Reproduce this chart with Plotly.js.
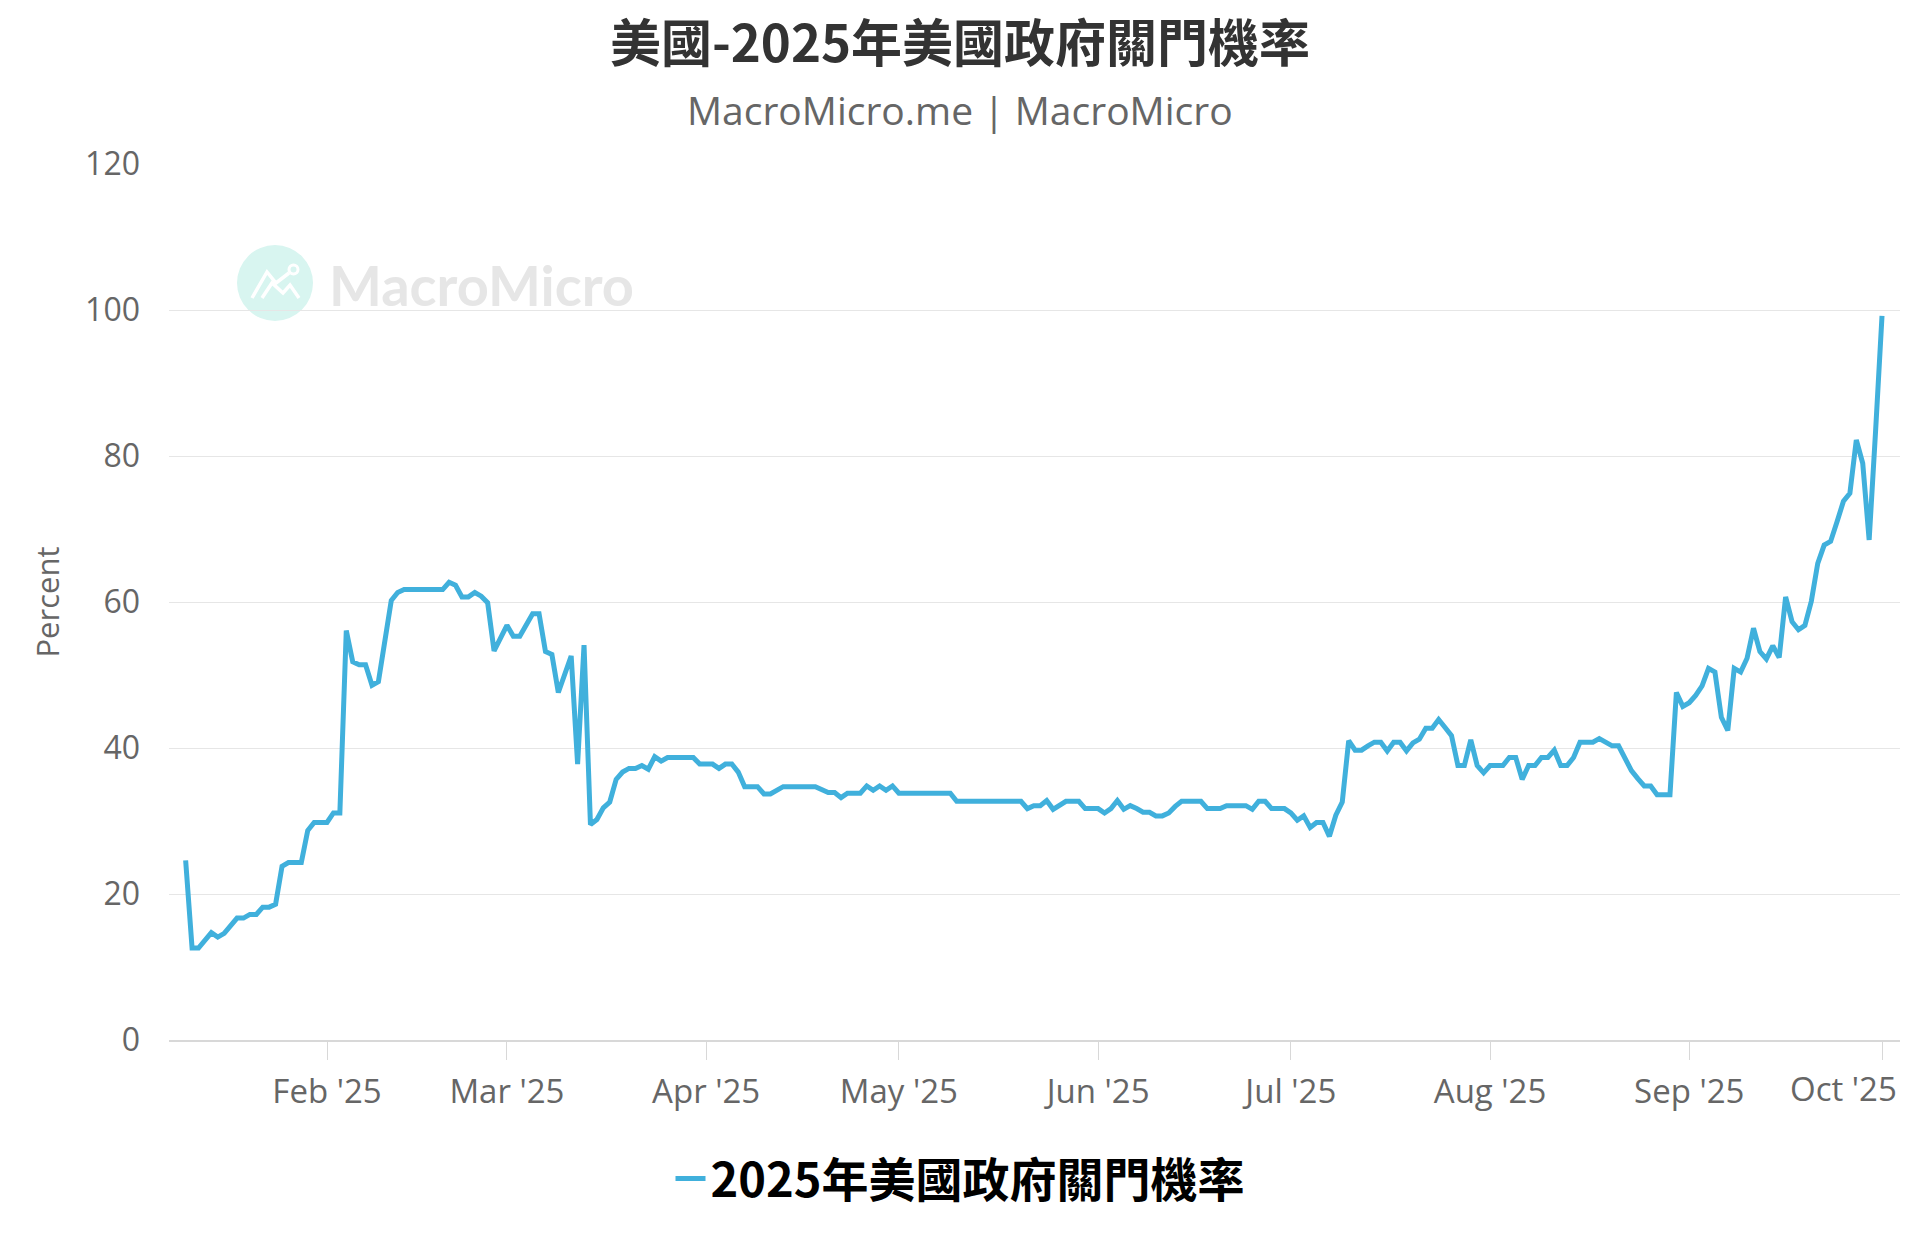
<!DOCTYPE html>
<html>
<head>
<meta charset="utf-8">
<script src="https://cdn.plot.ly/plotly-3.0.1.min.js"></script>
<style>
  html, body { margin: 0; padding: 0; background: #ffffff; }
  #chart { width: 1920px; height: 1250px; }
</style>
</head>
<body>
<div id="chart"></div>
<script>
// ---- Data ----
const chartTitle = "美國-2025年美國政府關門機率";
const chartSubtitle = "MacroMicro.me | MacroMicro";
const seriesName = "2025年美國政府關門機率";
const yAxisTitle = "Percent";

const dates = [
  "2025-01-10","2025-01-11","2025-01-12","2025-01-14","2025-01-15","2025-01-16","2025-01-18","2025-01-19",
  "2025-01-20","2025-01-21","2025-01-22","2025-01-23","2025-01-24","2025-01-25","2025-01-26","2025-01-28",
  "2025-01-29","2025-01-30","2025-02-01","2025-02-02","2025-02-03","2025-02-04","2025-02-05","2025-02-06",
  "2025-02-07","2025-02-08","2025-02-09","2025-02-11","2025-02-12","2025-02-13","2025-02-19","2025-02-20",
  "2025-02-21","2025-02-22","2025-02-23","2025-02-24","2025-02-25","2025-02-26","2025-02-27","2025-03-01",
  "2025-03-02","2025-03-03","2025-03-05","2025-03-06","2025-03-07","2025-03-08","2025-03-09","2025-03-11",
  "2025-03-12","2025-03-13","2025-03-14","2025-03-15","2025-03-16","2025-03-17","2025-03-18","2025-03-19",
  "2025-03-20","2025-03-21","2025-03-22","2025-03-23","2025-03-24","2025-03-25","2025-03-26","2025-03-30",
  "2025-03-31","2025-04-02","2025-04-03","2025-04-04","2025-04-05","2025-04-06","2025-04-07","2025-04-09",
  "2025-04-10","2025-04-11","2025-04-13","2025-04-18","2025-04-20","2025-04-21","2025-04-22","2025-04-23",
  "2025-04-25","2025-04-26","2025-04-27","2025-04-28","2025-04-29","2025-04-30","2025-05-01","2025-05-09",
  "2025-05-10","2025-05-20","2025-05-21","2025-05-22","2025-05-23","2025-05-24","2025-05-25","2025-05-26",
  "2025-05-27","2025-05-29","2025-05-30","2025-06-01","2025-06-02","2025-06-03","2025-06-04","2025-06-05",
  "2025-06-06","2025-06-07","2025-06-08","2025-06-09","2025-06-10","2025-06-11","2025-06-12","2025-06-13",
  "2025-06-14","2025-06-17","2025-06-18","2025-06-20","2025-06-21","2025-06-24","2025-06-25","2025-06-26",
  "2025-06-27","2025-06-28","2025-06-30","2025-07-01","2025-07-02","2025-07-03","2025-07-04","2025-07-05",
  "2025-07-06","2025-07-07","2025-07-08","2025-07-09","2025-07-10","2025-07-11","2025-07-12","2025-07-13",
  "2025-07-14","2025-07-15","2025-07-16","2025-07-17","2025-07-18","2025-07-19","2025-07-20","2025-07-21",
  "2025-07-22","2025-07-23","2025-07-24","2025-07-25","2025-07-26","2025-07-27","2025-07-28","2025-07-29",
  "2025-07-30","2025-07-31","2025-08-01","2025-08-03","2025-08-04","2025-08-05","2025-08-06","2025-08-07",
  "2025-08-08","2025-08-09","2025-08-10","2025-08-11","2025-08-12","2025-08-13","2025-08-14","2025-08-15",
  "2025-08-17","2025-08-18","2025-08-19","2025-08-20","2025-08-21","2025-08-22","2025-08-23","2025-08-24",
  "2025-08-25","2025-08-26","2025-08-27","2025-08-29","2025-08-30","2025-08-31","2025-09-01","2025-09-02",
  "2025-09-03","2025-09-04","2025-09-05","2025-09-06","2025-09-07","2025-09-08","2025-09-09","2025-09-10",
  "2025-09-11","2025-09-12","2025-09-13","2025-09-14","2025-09-15","2025-09-16","2025-09-17","2025-09-18",
  "2025-09-19","2025-09-20","2025-09-21","2025-09-22","2025-09-23","2025-09-24","2025-09-25","2025-09-26",
  "2025-09-27","2025-09-28","2025-09-29","2025-09-30","2025-10-01"
];

const shutdownProbability = [
  24.6,12.6,12.6,14.7,14.1,14.6,16.7,16.7,
  17.2,17.2,18.2,18.2,18.6,23.8,24.3,24.3,
  28.7,29.8,29.8,31.1,31.1,56.1,51.8,51.4,
  51.4,48.6,49.1,60.2,61.3,61.7,61.7,62.7,
  62.3,60.7,60.7,61.3,60.8,59.9,53.3,56.8,
  55.3,55.3,58.4,58.4,53.2,52.8,47.6,52.6,
  37.8,54.1,29.5,30.2,31.8,32.6,35.7,36.7,
  37.2,37.2,37.6,37.1,38.8,38.2,38.7,38.7,
  37.8,37.8,37.2,37.8,37.8,36.7,34.7,34.7,
  33.7,33.7,34.7,34.7,33.9,33.9,33.2,33.8,
  33.8,34.8,34.2,34.8,34.2,34.8,33.8,33.8,
  32.7,32.7,31.7,32.1,32.1,32.8,31.6,32.1,
  32.7,32.7,31.7,31.7,31.1,31.7,32.8,31.6,
  32.1,31.7,31.2,31.2,30.7,30.7,31.1,32.0,
  32.7,32.7,31.7,31.7,32.1,32.1,31.6,32.7,
  32.7,31.7,31.7,31.1,30.1,30.7,29.1,29.8,
  29.8,27.9,30.8,32.6,41.0,39.7,39.7,40.3,
  40.8,40.8,39.6,40.8,40.8,39.6,40.7,41.2,
  42.7,42.7,43.9,42.8,41.7,37.6,37.6,41.1,
  37.6,36.6,37.6,37.6,38.7,38.7,35.7,37.6,
  37.6,38.7,38.7,39.7,37.6,37.6,38.7,40.8,
  40.8,41.3,40.8,40.3,40.3,38.5,36.9,35.8,
  34.8,34.8,33.6,33.6,47.6,45.7,46.2,47.2,
  48.5,50.9,50.4,44.2,42.4,50.9,50.4,52.3,
  56.4,53.2,52.2,54.0,52.4,60.7,57.3,56.2,
  56.8,60.1,65.3,67.8,68.3,71.0,73.8,74.9,
  82.2,79.0,68.5,83.4,99.2
];

const xTickDates = ["2025-02-01","2025-03-01","2025-04-01","2025-05-01","2025-06-01",
                    "2025-07-01","2025-08-01","2025-09-01","2025-10-01"];
const xTickLabels = ["Feb '25","Mar '25","Apr '25","May '25","Jun '25",
                     "Jul '25","Aug '25","Sep '25","Oct '25"];
const yTickValues = [0, 20, 40, 60, 80, 100, 120];
const xRange = ["2025-01-07 09:50", "2025-10-03 19:12"];

// ---- Styles ----
const lineColor = "#40b0dc";
const gridColor = "#e6e6e6";
const axisColor = "#d8d8d8";
const labelColor = "#666666";
const latinFont = "Open Sans, Noto Sans, sans-serif";
const cjkFont = "Noto Sans CJK TC, Noto Sans CJK SC, sans-serif";

// The last month label is pushed inside the chart edge (as in the reference),
// so it is drawn as an annotation right-aligned at the plot edge.
const lastIdx = xTickLabels.length - 1;
const axisTickText = xTickLabels.map((t, i) => (i === lastIdx ? "" : t));

const trace = {
  type: "scatter",
  mode: "lines",
  x: dates,
  y: shutdownProbability,
  name: seriesName,
  line: { color: lineColor, width: 5 },
  showlegend: true
};

const layout = {
  width: 1920,
  height: 1250,
  paper_bgcolor: "#ffffff",
  plot_bgcolor: "#ffffff",
  margin: { l: 169, r: 20, t: 164, b: 210 },
  title: {
    text: chartTitle,
    font: { family: cjkFont, size: 51, color: "#333333", weight: "bold" },
    x: 0.5, xref: "container", xanchor: "center",
    y: 0.9648, yref: "container", yanchor: "middle"
  },
  xaxis: {
    type: "date",
    range: xRange,
    tickmode: "array",
    tickvals: xTickDates,
    ticktext: axisTickText,
    ticks: "outside",
    ticklen: 18,
    tickwidth: 1,
    tickcolor: axisColor,
    showline: true,
    linecolor: axisColor,
    linewidth: 2,
    showgrid: false,
    zeroline: false,
    tickfont: { family: latinFont, size: 33, color: labelColor },
    ticklabelstandoff: 3
  },
  yaxis: {
    range: [0, 120],
    tickvals: yTickValues,
    ticktext: yTickValues.map(String),
    showgrid: true,
    gridcolor: gridColor,
    gridwidth: 1,
    zeroline: false,
    showline: false,
    ticks: "",
    tickfont: { family: latinFont, size: 32, color: labelColor },
    ticklabelstandoff: 28,
    title: {
      text: yAxisTitle,
      font: { family: latinFont, size: 31, color: labelColor },
      standoff: 16
    }
  },
  legend: {
    orientation: "h",
    xref: "container", x: 0.5, xanchor: "center",
    yref: "container", y: 0.0568, yanchor: "middle",
    font: { family: cjkFont, size: 47, color: "#000000", weight: "bold" },
    bgcolor: "rgba(0,0,0,0)"
  },
  annotations: [
    {
      text: chartSubtitle,
      xref: "paper", yref: "paper",
      x: (960 - 169) / 1731, y: 1 + (164 - 110) / 876,
      xanchor: "center", yanchor: "middle",
      showarrow: false,
      font: { family: latinFont, size: 39, color: labelColor }
    },
    {
      text: xTickLabels[lastIdx],
      xref: "paper", yref: "paper",
      x: (1899 - 169) / 1731, y: -(1088 - 1040) / 876,
      xanchor: "right", yanchor: "middle",
      showarrow: false,
      font: { family: latinFont, size: 33, color: labelColor }
    },
    {
      text: "MacroMicro",
      xref: "paper", yref: "paper",
      x: (327 - 169) / 1731, y: (1040 - 284) / 876,
      xanchor: "left", yanchor: "middle",
      showarrow: false,
      font: { family: "Lato, sans-serif", size: 56, color: "#e6e6e6", weight: "bold" }
    }
  ],
  shapes: [
    {
      type: "circle", layer: "below",
      xref: "paper", yref: "paper",
      xsizemode: "pixel", ysizemode: "pixel",
      xanchor: (275 - 169) / 1731, yanchor: (1040 - 283) / 876,
      x0: -38, x1: 38, y0: -38, y1: 38,
      fillcolor: "#d8f5f0", line: { width: 0 }
    },
    {
      type: "path", layer: "below",
      xref: "paper", yref: "paper",
      xsizemode: "pixel", ysizemode: "pixel",
      xanchor: (275 - 169) / 1731, yanchor: (1040 - 283) / 876,
      path: "M -23,-15 L -8,11 L 1,0 L 14,10",
      line: { color: "#ffffff", width: 3.5 }
    },
    {
      type: "path", layer: "below",
      xref: "paper", yref: "paper",
      xsizemode: "pixel", ysizemode: "pixel",
      xanchor: (275 - 169) / 1731, yanchor: (1040 - 283) / 876,
      path: "M -13,-15 L -3,0 L 8,-10 L 15,-2 L 24,-15",
      line: { color: "#ffffff", width: 3.5 }
    },
    {
      type: "circle", layer: "below",
      xref: "paper", yref: "paper",
      xsizemode: "pixel", ysizemode: "pixel",
      xanchor: (275 - 169) / 1731, yanchor: (1040 - 283) / 876,
      x0: 14, x1: 23, y0: 9, y1: 18,
      fillcolor: "rgba(0,0,0,0)", line: { color: "#ffffff", width: 3 }
    }
  ],
  hovermode: false
};

Plotly.newPlot("chart", [trace], layout, { staticPlot: true, displayModeBar: false });
</script>
</body>
</html>
